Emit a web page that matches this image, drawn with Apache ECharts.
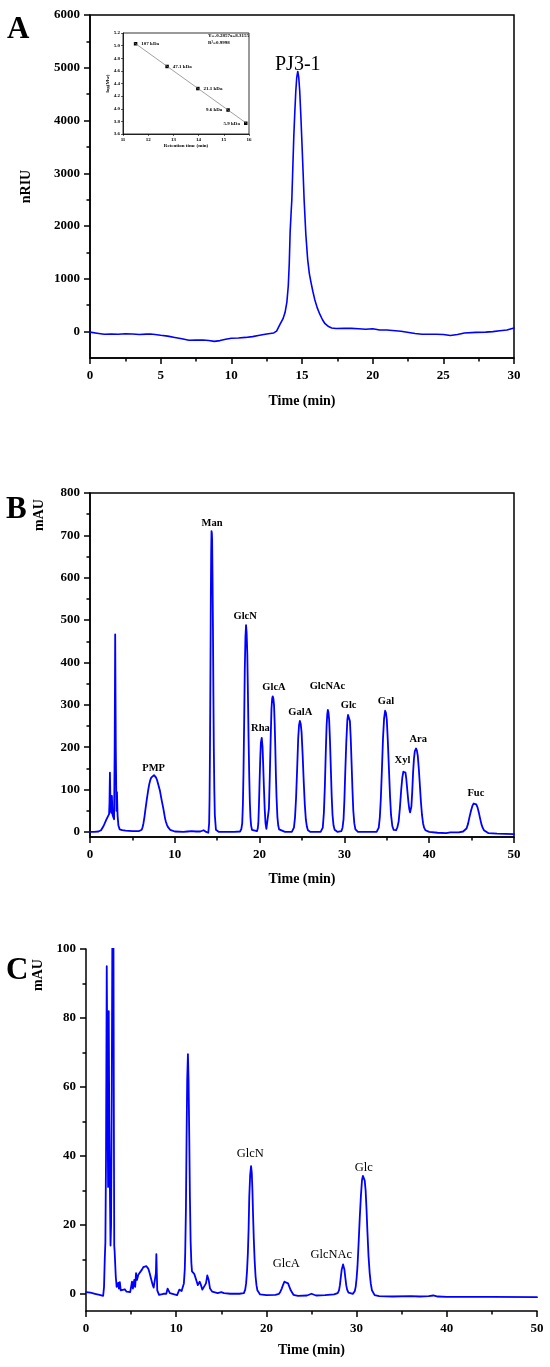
<!DOCTYPE html>
<html>
<head>
<meta charset="utf-8">
<title>PJ3-1 chromatograms</title>
<script src="https://cdn.jsdelivr.net/npm/echarts@6.0.0/dist/echarts.min.js"></script>
<style>
  html, body { margin: 0; padding: 0; background: #fff; }
  #chart { width: 550px; height: 1367px; }
</style>
</head>
<body>
<div id="chart"></div>
<script>
/* ============================================================
   HPGPC (A) + PMP-HPLC monosaccharide profiles (B standards, C sample)
   ============================================================ */

const SERIF = "Liberation Serif, DejaVu Serif, serif";
const BLUE = "#0000ff";

/* ----------------------- DATA: panel A ----------------------- */
// [time (min), nRIU]
const traceA = [
  [0, -10], [0.5, -30], [1, -50], [1.5, -48], [2, -50], [2.5, -40], [3, -45], [3.5, -55],
  [4, -48], [4.3, -45], [4.6, -55], [5, -70], [5.5, -85], [6, -110], [6.5, -135], [7, -165],
  [7.5, -162], [8, -160], [8.4, -168], [8.8, -185], [9.2, -170], [9.6, -145], [10, -125],
  [10.5, -120], [11, -110], [11.5, -95], [12, -70], [12.5, -45], [13, -25], [13.2, 10],
  [13.45, 140], [13.65, 240], [13.8, 360], [13.93, 560], [14.03, 870], [14.1, 1300],
  [14.16, 1880], [14.22, 2200], [14.28, 2500], [14.35, 3100], [14.42, 3700], [14.49, 4150],
  [14.56, 4550], [14.63, 4820], [14.7, 4930], [14.77, 4820], [14.84, 4550], [14.92, 4080],
  [15.0, 3550], [15.08, 3000], [15.15, 2500], [15.27, 1850], [15.4, 1370], [15.52, 1100],
  [15.64, 930], [15.77, 760], [15.9, 610], [16.08, 450], [16.26, 330], [16.45, 225],
  [16.63, 150], [16.88, 95], [17.1, 70], [17.4, 58], [18, 65], [18.5, 62], [19, 55],
  [19.5, 45], [20, 55], [20.5, 32], [21, 30], [22, 8], [23, -35], [23.5, -50], [24.5, -50],
  [25, -55], [25.5, -75], [26, -55], [26.5, -25], [27.3, -15], [28, -10], [28.5, 0], [29, 15],
  [29.5, 30], [30, 70],
];
const ticksA = [0, 1000, 2000, 3000, 4000, 5000, 6000];
const minorTicksA = [500, 1500, 2500, 3500, 4500, 5500];
const labelNamesA = ["PJ3-1"];
const labelTimeA = [14.7];
const labelLevelA = [5050];

// inset: calibration with dextran standards
const stdTime = [11.5, 12.75, 13.97, 15.17, 15.87];
const stdLogMw = [5.03, 4.67, 4.32, 3.98, 3.77];
const stdNames = ["107 kDa", "47.1 kDa", "21.1 kDa", "9.6 kDa", "5.9 kDa"];
const stdLabelSide = ["right", "right", "right", "left", "left"];
const fitEnds = [[11.45, 5.045], [15.9, 3.77]];
const fitText = ["Y=-0.2857x+8.3155", "R\u00b2=0.9998"];

/* ----------------------- DATA: panel B ----------------------- */
// [time (min), mAU]
const traceB = [
  [0, 0], [0.5, 0], [1, 1], [1.3, 4], [1.6, 14], [1.9, 28], [2.1, 36], [2.25, 42], [2.3, 70],
  [2.35, 140], [2.42, 55], [2.5, 45], [2.58, 85], [2.66, 40], [2.75, 35], [2.84, 30],
  [2.91, 200], [2.97, 466], [3.04, 200], [3.12, 50], [3.18, 94], [3.25, 40], [3.35, 15],
  [3.5, 6], [3.8, 4], [4.2, 3], [5, 2], [5.8, 2], [6.1, 5], [6.2, 11], [6.3, 20], [6.42, 35],
  [6.55, 55], [6.7, 77], [6.85, 97], [6.97, 111], [7.1, 122], [7.22, 128], [7.35, 132],
  [7.55, 134], [7.68, 132], [7.8, 128], [7.93, 121], [8.05, 112], [8.25, 97], [8.45, 75],
  [8.65, 55], [8.85, 32], [8.95, 24], [9.05, 18], [9.18, 12], [9.3, 8], [9.45, 5], [9.6, 3],
  [10, 1], [11, 0], [11.5, 1], [12, 2], [12.5, 1], [13, 1], [13.4, 4], [13.7, 0], [13.95, -2],
  [14.05, 20], [14.1, 80], [14.15, 200], [14.2, 370], [14.25, 560], [14.29, 660], [14.33, 710],
  [14.37, 705], [14.4, 690], [14.45, 600], [14.5, 480], [14.55, 330], [14.6, 200], [14.66, 100],
  [14.72, 40], [14.85, 5], [15.2, 0], [17, 0], [17.7, 1], [17.85, 7], [17.95, 20], [18.03, 65],
  [18.1, 140], [18.18, 260], [18.25, 380], [18.33, 460], [18.4, 488], [18.47, 470],
  [18.55, 420], [18.62, 330], [18.7, 220], [18.78, 130], [18.85, 70], [18.92, 35], [19.0, 15],
  [19.1, 5], [19.2, 2], [19.7, 2], [19.78, 8], [19.85, 20], [19.92, 60], [20, 120], [20.08, 175],
  [20.15, 210], [20.25, 222], [20.35, 200], [20.42, 160], [20.5, 110], [20.6, 55], [20.7, 20],
  [20.8, 7], [20.9, 3], [21.0, 10], [21.1, 55], [21.2, 130], [21.3, 215], [21.4, 290],
  [21.48, 315], [21.55, 320], [21.62, 315], [21.7, 300], [21.78, 255], [21.85, 200],
  [21.92, 135], [22.0, 80], [22.1, 35], [22.2, 15], [22.3, 6], [22.4, 2], [23, 0], [23.8, 0],
  [23.95, 4], [24.05, 10], [24.18, 35], [24.3, 80], [24.43, 150], [24.55, 220], [24.65, 252],
  [24.75, 262], [24.85, 255], [24.95, 235], [25.08, 180], [25.2, 120], [25.33, 65],
  [25.45, 30], [25.58, 12], [25.7, 4], [26, 0], [27.2, 0], [27.35, 4], [27.45, 10], [27.58, 45],
  [27.7, 110], [27.8, 185], [27.9, 250], [27.98, 278], [28.05, 288], [28.12, 282],
  [28.2, 265], [28.3, 215], [28.4, 150], [28.5, 85], [28.6, 40], [28.72, 15], [28.85, 5],
  [29.2, 0], [29.65, 2], [29.78, 10], [29.9, 30], [30.0, 75], [30.1, 140], [30.22, 210],
  [30.35, 265], [30.43, 276], [30.5, 278], [30.57, 274], [30.65, 262], [30.75, 220],
  [30.85, 160], [30.95, 100], [31.05, 50], [31.17, 20], [31.3, 6], [31.6, 0], [33.8, 0],
  [33.95, 4], [34.05, 10], [34.18, 35], [34.3, 80], [34.43, 150], [34.55, 220], [34.68, 268],
  [34.8, 286], [34.9, 281], [35.0, 265], [35.12, 215], [35.25, 150], [35.38, 85], [35.5, 40],
  [35.65, 14], [35.8, 5], [36.1, 4], [36.25, 11], [36.4, 25], [36.55, 58], [36.7, 100],
  [36.83, 128], [36.95, 142], [37.1, 146], [37.2, 140], [37.3, 125], [37.42, 98], [37.55, 70],
  [37.65, 54], [37.75, 46], [37.82, 50], [37.9, 60], [38.0, 95], [38.1, 140], [38.2, 172],
  [38.3, 190], [38.45, 197], [38.55, 192], [38.65, 180], [38.78, 148], [38.9, 110],
  [39.02, 72], [39.15, 40], [39.28, 20], [39.4, 10], [39.55, 4], [39.7, 2], [40, 0], [41, -2],
  [42, -3], [42.5, -1], [43.5, -1], [44, 1], [44.2, 3], [44.4, 8], [44.58, 19], [44.75, 35],
  [44.93, 50], [45.1, 62], [45.25, 67], [45.4, 68], [45.55, 65], [45.7, 58], [45.85, 46],
  [46, 32], [46.15, 19], [46.3, 10], [46.45, 4], [46.6, 1], [47, -3], [48, -4], [50, -5],
];
const ticksB = [0, 100, 200, 300, 400, 500, 600, 700, 800];
const minorTicksB = [50, 150, 250, 350, 450, 550, 650, 750];
const peakNamesB = ["PMP", "Man", "GlcN", "Rha", "GlcA", "GalA", "GlcNAc", "Glc", "Gal", "Xyl", "Ara", "Fuc"];
const labelTimeB = [7.5, 14.4, 18.3, 20.1, 21.7, 24.8, 28.0, 30.5, 34.9, 36.85, 38.7, 45.5];
const labelLevelB = [150, 728, 508, 245, 342, 283, 343, 298, 308, 170, 218, 92];

/* ----------------------- DATA: panel C ----------------------- */
// [time (min), mAU]
const traceC = [
  [0, 0.5], [0.5, 0.3], [1, 0], [1.5, -0.3], [1.9, -0.6], [2.0, 2], [2.08, 10], [2.15, 15],
  [2.22, 40], [2.3, 95], [2.38, 60], [2.45, 31], [2.52, 82], [2.58, 50], [2.65, 30],
  [2.72, 14], [2.78, 20], [2.86, 60], [2.95, 125], [3.02, 130], [3.08, 60], [3.13, 14],
  [3.18, 12], [3.23, 12], [3.3, 5], [3.4, 2], [3.5, 1.5], [3.58, 3.2], [3.65, 1.5],
  [3.75, 3.4], [3.85, 1], [4.0, 0.8], [4.3, 1.3], [4.5, 0.6], [4.9, 0.5], [5.1, 3.5],
  [5.2, 1.5], [5.35, 4], [5.45, 2], [5.55, 6], [5.65, 4], [5.8, 5.5], [6.0, 6], [6.2, 7],
  [6.35, 7.7], [6.5, 8], [6.7, 8], [6.9, 7.3], [7.0, 6.5], [7.1, 5.5], [7.2, 4.5], [7.3, 3.5],
  [7.4, 2.5], [7.5, 1.8], [7.7, 1.5], [7.75, 6], [7.8, 11.5], [7.85, 6], [7.9, 1], [8.1, -0.3],
  [8.6, 0], [8.9, 0], [9.05, 1.5], [9.3, 0.2], [9.8, -0.2], [10.1, -0.4], [10.35, 1.2],
  [10.6, 0.8], [10.85, 3], [10.95, 7], [11.0, 12], [11.08, 25], [11.15, 45], [11.22, 62],
  [11.3, 69.5], [11.37, 62], [11.45, 45], [11.52, 28], [11.6, 15], [11.68, 9], [11.75, 6.5],
  [12.0, 5.8], [12.2, 5.5], [12.4, 2.5], [12.6, 3.5], [12.75, 2.5], [12.9, 1.2], [13.1, 1.5],
  [13.3, 3], [13.45, 5.3], [13.6, 4], [13.75, 1.5], [14.0, 0.6], [14.6, 0.2], [15.0, 0.5],
  [15.3, 0.2], [16, 0], [17, 0], [17.5, 0.2], [17.65, 1.2], [17.75, 3], [17.85, 6.5],
  [17.95, 12], [18.03, 19], [18.1, 28], [18.2, 34.5], [18.3, 37], [18.38, 35], [18.45, 30],
  [18.52, 23], [18.6, 16], [18.7, 9.5], [18.8, 5], [18.9, 2.5], [19.0, 1], [19.3, -0.2],
  [20, -0.4], [21, -0.3], [21.4, 0], [21.55, 0.6], [21.7, 1.5], [21.85, 2.6], [22.0, 3.5],
  [22.2, 4], [22.4, 3], [22.55, 2], [22.7, 1], [23.0, -0.3], [23.5, -0.6], [24.5, -0.5],
  [25, 0], [25.5, -0.5], [26.5, -0.4], [27.5, -0.2], [27.9, 0.2], [28.05, 1], [28.15, 2.5],
  [28.25, 4.8], [28.35, 7], [28.5, 8.5], [28.65, 7], [28.75, 4.7], [28.85, 2.5], [28.95, 1.2],
  [29.1, 0.3], [29.6, 0], [29.8, 0.8], [29.9, 2], [30.0, 4.5], [30.1, 8], [30.22, 14.5],
  [30.35, 22], [30.48, 28.5], [30.6, 33], [30.7, 34.2], [30.8, 34.3], [30.9, 32.8],
  [31.0, 30], [31.1, 24.5], [31.2, 18], [31.32, 11], [31.45, 6], [31.57, 3], [31.7, 1],
  [32, -0.4], [32.5, -0.7], [34, -0.8], [36, -0.7], [37, -0.8], [38, -0.7], [38.5, -0.5],
  [39, -0.8], [40, -0.9], [45, -0.9], [50, -1],
];
const ticksC = [0, 20, 40, 60, 80, 100];
const minorTicksC = [10, 30, 50, 70, 90];
const peakNamesC = ["GlcN", "GlcA", "GlcNAc", "Glc"];
const labelTimeC = [18.2, 22.2, 27.2, 30.8];
const labelLevelC = [40.6, 8.7, 11.3, 36.6];

/* ----------------------- HELPERS ----------------------- */
const tickLine = { color: "#000", width: 1.5 };
const boldText = { fontFamily: SERIF, fontWeight: "bold", color: "#000" };
const plain = (v) => String(v);

function timeAxis(grid, max, step, nameGap) {
  return {
    type: "value", gridIndex: grid, min: 0, max, interval: step,
    name: "Time (min)", nameLocation: "middle", nameGap,
    nameTextStyle: { ...boldText, fontSize: 14 },
    axisLine: { show: true, onZero: false, lineStyle: tickLine },
    axisTick: { length: 6, lineStyle: tickLine },
    minorTick: { show: true, splitNumber: 2, length: 3.5, lineStyle: tickLine },
    axisLabel: { ...boldText, fontSize: 13, margin: 11, formatter: plain },
    splitLine: { show: false },
    minorSplitLine: { show: false },
  };
}

function valueAxis(grid, min, max, ticks) {
  return {
    type: "value", gridIndex: grid, min, max, position: "left",
    axisLine: { show: true, onZero: false, lineStyle: tickLine },
    axisTick: { length: 6, customValues: ticks, lineStyle: tickLine },
    axisLabel: { ...boldText, fontSize: 13, margin: 10, customValues: ticks, formatter: plain },
    splitLine: { show: false },
  };
}

function minorAxis(grid, min, max, ticks) {
  return {
    type: "value", gridIndex: grid, min, max, position: "left",
    axisLine: { show: false },
    axisTick: { length: 3.5, customValues: ticks, lineStyle: tickLine },
    axisLabel: { show: false },
    splitLine: { show: false },
  };
}

function trace(x, y, data, width) {
  return {
    type: "line", xAxisIndex: x, yAxisIndex: y, data,
    symbol: "none", showSymbol: false, smooth: false, clip: true, silent: true,
    lineStyle: { color: BLUE, width, join: "round", cap: "round" },
  };
}

function peakLabels(x, y, names, times, levels, font) {
  return {
    type: "scatter", xAxisIndex: x, yAxisIndex: y, symbolSize: 0, silent: true,
    itemStyle: { color: "#000", opacity: 1 },
    data: names.map((n, i) => ({ name: n, value: [times[i], levels[i]] })),
    label: {
      show: true, position: [0, 0], align: "center", verticalAlign: "middle",
      formatter: "{b}", color: "#000", opacity: 1, textBorderWidth: 0, ...font,
    },
  };
}

/* ----------------------- CHART ----------------------- */
const chart = echarts.init(document.getElementById("chart"), null, { renderer: "canvas" });

chart.setOption({
  animation: false,
  backgroundColor: "#fff",
  grid: [
    { left: 90, right: 36, top: 15, height: 343, show: true, borderColor: "#000", borderWidth: 1.5 },
    { left: 123, top: 33, width: 126, height: 101, show: true, borderColor: "#000", borderWidth: 0.8 },
    { left: 90, right: 36, top: 493, height: 344, show: true, borderColor: "#000", borderWidth: 1.5 },
    { left: 86, right: 13, top: 949, height: 362 },
  ],
  xAxis: [
    timeAxis(0, 30, 5, 36),
    {
      type: "value", gridIndex: 1, min: 11, max: 16, interval: 1,
      name: "Retention time (min)", nameLocation: "middle", nameGap: 9,
      nameTextStyle: { ...boldText, fontSize: 5 },
      axisLine: { show: true, onZero: false, lineStyle: { color: "#000", width: 0.8 } },
      axisTick: { length: 2, lineStyle: { color: "#000", width: 0.6 } },
      axisLabel: { ...boldText, fontSize: 5, margin: 3 },
      splitLine: { show: false },
    },
    timeAxis(2, 50, 10, 35),
    timeAxis(3, 50, 10, 32),
  ],
  yAxis: [
    {
      ...valueAxis(0, -500, 6000, ticksA),
      name: "nRIU", nameLocation: "middle", nameGap: 57,
      nameTextStyle: { ...boldText, fontSize: 14 },
    },
    minorAxis(0, -500, 6000, minorTicksA),
    {
      type: "value", gridIndex: 1, min: 3.6, max: 5.2, interval: 0.2,
      name: "log(Mw)", nameLocation: "middle", nameGap: 12,
      nameTextStyle: { ...boldText, fontSize: 5 },
      axisLine: { show: true, onZero: false, lineStyle: { color: "#000", width: 0.8 } },
      axisTick: { length: 2, lineStyle: { color: "#000", width: 0.6 } },
      axisLabel: { ...boldText, fontSize: 5, margin: 3, formatter: (v) => v.toFixed(1) },
      splitLine: { show: false },
    },
    valueAxis(2, -12, 800, ticksB),
    minorAxis(2, -12, 800, minorTicksB),
    valueAxis(3, -5, 100, ticksC),
    minorAxis(3, -5, 100, minorTicksC),
  ],
  series: [
    trace(0, 0, traceA, 1.6),
    peakLabels(0, 0, labelNamesA, labelTimeA, labelLevelA, { fontFamily: SERIF, fontSize: 20 }),
    {
      type: "line", xAxisIndex: 1, yAxisIndex: 2, data: fitEnds, symbol: "none", silent: true,
      lineStyle: { color: "#777", width: 0.7 },
    },
    {
      type: "scatter", xAxisIndex: 1, yAxisIndex: 2, symbol: "rect", symbolSize: 3.5, silent: true,
      itemStyle: { color: "#000", opacity: 1 },
      data: stdTime.map((t, i) => ({
        name: stdNames[i], value: [t, stdLogMw[i]],
        label: { position: stdLabelSide[i] },
      })),
      label: { show: true, formatter: "{b}", distance: 4, ...boldText, fontSize: 5 },
    },
    trace(2, 3, traceB, 1.8),
    peakLabels(2, 3, peakNamesB, labelTimeB, labelLevelB, { ...boldText, fontSize: 10.5 }),
    trace(3, 5, traceC, 1.8),
    peakLabels(3, 5, peakNamesC, labelTimeC, labelLevelC, { fontFamily: SERIF, fontSize: 12.5 }),
  ],
  graphic: [
    { type: "text", left: 7, top: 14, style: { text: "A", font: `bold 31px ${SERIF}`, fill: "#000" } },
    { type: "text", left: 6, top: 494, style: { text: "B", font: `bold 31px ${SERIF}`, fill: "#000" } },
    { type: "text", left: 6, top: 955, style: { text: "C", font: `bold 31px ${SERIF}`, fill: "#000" } },
    {
      type: "text", x: 39, y: 515, rotation: Math.PI / 2,
      style: { text: "mAU", font: `bold 14px ${SERIF}`, fill: "#000", align: "center", verticalAlign: "middle" },
    },
    {
      type: "text", x: 38, y: 975, rotation: Math.PI / 2,
      style: { text: "mAU", font: `bold 14px ${SERIF}`, fill: "#000", align: "center", verticalAlign: "middle" },
    },
    { type: "text", left: 208, top: 33, style: { text: fitText[0], font: `bold 5px ${SERIF}`, fill: "#000" } },
    { type: "text", left: 208, top: 40, style: { text: fitText[1], font: `bold 5px ${SERIF}`, fill: "#000" } },
  ],
});
</script>
</body>
</html>
